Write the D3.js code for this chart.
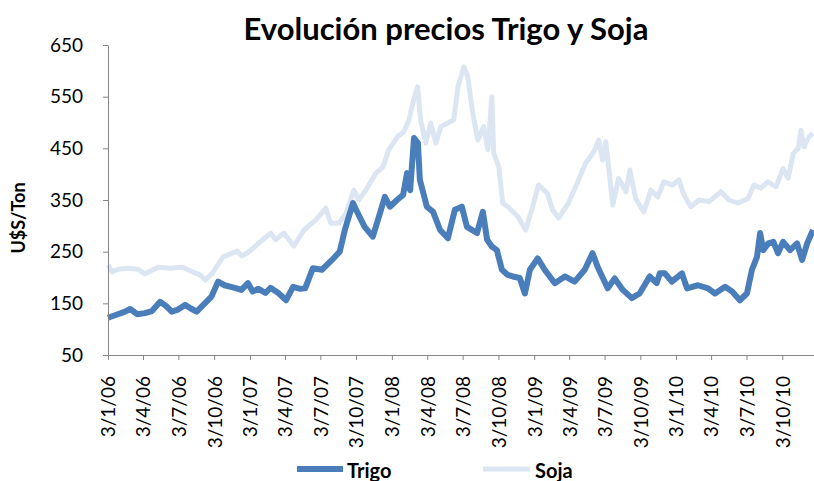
<!DOCTYPE html>
<html lang="es">
<head>
<meta charset="UTF-8"/>
<title>Evolución precios Trigo y Soja</title>
<script src="https://d3js.org/d3.v7.min.js"></script>
<style>
  body { margin: 0; background: #fff; }
  text { font-family: Lato, "Open Sans", sans-serif; fill: #000; }
</style>
</head>
<body>
<script>
    var w = 814;
    var h = 481;

    // Trigo (U$S/Ton)
    var trigoDates = ["2006-01-03","2006-01-21","2006-02-16","2006-03-01","2006-03-19","2006-04-08","2006-04-26","2006-05-17","2006-06-01","2006-06-16",
        "2006-07-02","2006-07-20","2006-08-04","2006-08-19","2006-09-09","2006-09-26","2006-10-13","2006-10-30","2006-11-25","2006-12-12",
        "2006-12-29","2007-01-10","2007-01-25","2007-02-12","2007-02-25","2007-03-17","2007-04-06","2007-04-24","2007-05-12","2007-05-25",
        "2007-06-14","2007-07-07","2007-08-02","2007-08-22","2007-09-04","2007-09-25","2007-10-07","2007-10-25","2007-11-15","2007-11-28",
        "2007-12-16","2007-12-29","2008-01-16","2008-02-01","2008-02-11","2008-02-19","2008-02-29","2008-03-10","2008-03-15","2008-04-02",
        "2008-04-18","2008-05-06","2008-05-26","2008-06-13","2008-07-01","2008-07-14","2008-08-09","2008-08-24","2008-09-04","2008-09-16",
        "2008-09-29","2008-10-12","2008-10-27","2008-11-09","2008-11-27","2008-12-10","2008-12-23","2009-01-12","2009-01-30","2009-02-25",
        "2009-03-23","2009-04-17","2009-05-13","2009-06-02","2009-06-15","2009-07-11","2009-07-29","2009-08-19","2009-09-11","2009-10-01",
        "2009-10-27","2009-11-14","2009-11-22","2009-12-05","2009-12-23","2010-01-18","2010-01-31","2010-02-28","2010-03-26","2010-04-13",
        "2010-05-09","2010-05-27","2010-06-16","2010-07-04","2010-07-17","2010-07-30","2010-08-07","2010-08-15","2010-08-28","2010-09-10",
        "2010-09-22","2010-10-05","2010-10-23","2010-11-10","2010-11-23","2010-12-06","2010-12-21"];
    var trigoValues = [122,127,134,139,129,131,135,153,145,134,
        138,147,140,134,150,163,192,185,180,176,
        189,173,178,170,180,170,156,182,178,179,
        218,215,234,250,292,344,325,298,279,311,
        356,337,350,360,402,369,470,460,389,337,
        327,292,276,331,337,298,286,327,273,260,
        253,215,205,202,199,169,215,237,215,189,
        202,192,215,247,221,179,198,176,160,169,
        202,189,208,208,192,208,179,185,179,169,
        182,173,156,169,215,240,286,253,266,269,
        247,269,253,266,234,266,292];

    // Soja (U$S/Ton)
    var sojaDates = ["2006-01-03","2006-01-13","2006-01-29","2006-02-23","2006-03-21","2006-04-08","2006-04-26","2006-05-12","2006-06-12","2006-07-13",
        "2006-08-08","2006-08-28","2006-09-10","2006-09-28","2006-10-26","2006-12-01","2006-12-14","2006-12-29","2007-01-25","2007-02-25",
        "2007-03-10","2007-03-31","2007-04-26","2007-05-22","2007-06-21","2007-07-17","2007-07-30","2007-08-20","2007-09-07","2007-09-27",
        "2007-10-10","2007-10-28","2007-11-23","2007-12-11","2007-12-26","2008-01-18","2008-02-03","2008-02-16","2008-02-28","2008-03-09",
        "2008-03-17","2008-03-30","2008-04-12","2008-04-25","2008-05-08","2008-05-26","2008-06-10","2008-06-21","2008-07-06","2008-07-16",
        "2008-07-29","2008-08-11","2008-08-26","2008-09-06","2008-09-16","2008-09-21","2008-10-04","2008-10-14","2008-10-27","2008-11-22",
        "2008-12-12","2008-12-30","2009-01-14","2009-02-06","2009-02-19","2009-03-07","2009-04-01","2009-04-25","2009-05-15","2009-06-05",
        "2009-06-18","2009-06-28","2009-07-06","2009-07-19","2009-07-24","2009-08-08","2009-08-27","2009-09-06","2009-09-21","2009-10-12",
        "2009-10-30","2009-11-17","2009-12-02","2009-12-25","2010-01-10","2010-01-23","2010-02-10","2010-03-03","2010-03-29","2010-04-28",
        "2010-05-19","2010-06-11","2010-07-07","2010-07-22","2010-08-09","2010-08-27","2010-09-17","2010-10-05","2010-10-18","2010-10-31",
        "2010-11-13","2010-11-20","2010-11-28","2010-12-11","2010-12-21"];
    var sojaValues = [224,211,216,218,216,207,214,220,218,220,
        211,205,195,208,240,251,242,248,266,286,
        273,286,261,292,311,334,305,305,324,369,
        350,369,402,414,447,473,482,505,544,569,
        505,460,499,460,492,499,505,569,608,589,
        518,466,492,447,550,441,414,344,337,318,
        292,337,379,363,331,315,344,385,421,443,
        466,427,463,376,340,392,366,408,353,327,
        369,356,385,379,389,360,337,350,347,366,
        350,344,353,379,373,385,376,411,392,440,
        450,485,453,473,479];

    var tickDates = ["2006-01-03","2006-04-03","2006-07-03","2006-10-03","2007-01-03","2007-04-03","2007-07-03","2007-10-03",
        "2008-01-03","2008-04-03","2008-07-03","2008-10-03","2009-01-03","2009-04-03","2009-07-03","2009-10-03",
        "2010-01-03","2010-04-03","2010-07-03","2010-10-03"];
    var yTicks = [50, 150, 250, 350, 450, 550, 650];

    var parse = d3.timeParse("%Y-%m-%d");

    var trigo = trigoDates.map(function(d, i) { return [parse(d), trigoValues[i]]; });
    var soja = sojaDates.map(function(d, i) { return [parse(d), sojaValues[i]]; });

    var xScale = d3.scaleTime()
                   .domain([parse("2006-01-03"), parse("2010-12-21")])
                   .range([108, 813]);

    var yScale = d3.scaleLinear()
                   .domain([50, 650])
                   .range([355, 45]);

    var svg = d3.select("body")
                .append("svg")
                .attr("width", w)
                .attr("height", h);

    var line = d3.line()
                 .x(function(d) { return xScale(d[0]); })
                 .y(function(d) { return yScale(d[1]); });

    svg.append("path")
       .datum(soja)
       .attr("d", line)
       .attr("fill", "none")
       .attr("stroke", "#dce6f2")
       .attr("stroke-width", 5)
       .attr("stroke-linejoin", "round");

    svg.append("path")
       .datum(trigo)
       .attr("d", line)
       .attr("fill", "none")
       .attr("stroke", "#4a7ebb")
       .attr("stroke-width", 6)
       .attr("stroke-linejoin", "round");

    // axes
    var xAxis = d3.axisBottom(xScale)
                  .tickValues(tickDates.map(parse))
                  .tickFormat(d3.timeFormat("%-d/%-m/%y"))
                  .tickSize(5)
                  .tickSizeOuter(0);

    var gx = svg.append("g")
       .attr("transform", "translate(0,355)")
       .call(xAxis);
    gx.select(".domain").attr("stroke", "#868686").attr("d", "M108,0.5H814");
    gx.selectAll(".tick line").attr("stroke", "#868686");
    gx.selectAll(".tick text")
      .attr("transform", "rotate(-90)")
      .attr("text-anchor", "end")
      .attr("x", -21)
      .attr("y", 0)
      .attr("dy", "0.36em")
      .attr("font-size", "19px")
      .attr("fill", "#000");

    var yAxis = d3.axisLeft(yScale)
                  .tickValues(yTicks)
                  .tickSize(5)
                  .tickSizeOuter(0);

    var gy = svg.append("g")
       .attr("transform", "translate(108,0)")
       .call(yAxis);
    gy.select(".domain").attr("stroke", "#868686");
    gy.selectAll(".tick line").attr("stroke", "#868686");
    gy.selectAll(".tick text")
      .attr("x", -25)
      .attr("font-size", "19px")
      .attr("fill", "#000");

    svg.append("text")
       .attr("text-anchor", "middle")
       .attr("x", 446)
       .attr("y", 40)
       .attr("font-size", "31px")
       .attr("font-weight", "bold")
       .text("Evolución precios Trigo y Soja");

    svg.append("text")
       .attr("text-anchor", "middle")
       .attr("transform", "rotate(-90)")
       .attr("x", -218)
       .attr("y", 25)
       .attr("font-size", "18px")
       .attr("font-weight", "bold")
       .text("U$S/Ton");

    // legend
    svg.append("line")
       .attr("x1", 297).attr("x2", 343)
       .attr("y1", 469).attr("y2", 469)
       .attr("stroke", "#4a7ebb")
       .attr("stroke-width", 6);
    svg.append("text")
       .attr("x", 347).attr("y", 478)
       .attr("font-size", "20px")
       .attr("font-weight", "bold")
       .text("Trigo");

    svg.append("line")
       .attr("x1", 483).attr("x2", 530)
       .attr("y1", 469).attr("y2", 469)
       .attr("stroke", "#dce6f2")
       .attr("stroke-width", 5);
    svg.append("text")
       .attr("x", 535).attr("y", 478)
       .attr("font-size", "20px")
       .attr("font-weight", "bold")
       .text("Soja");
</script>
</body>
</html>
